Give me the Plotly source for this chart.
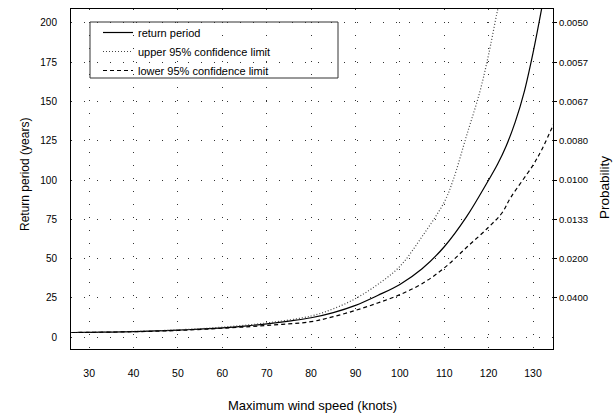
import plotly.graph_objects as go

# ---- data ----
wind_knots = [26, 30, 35, 40, 45, 50, 55, 60, 65, 70, 75, 80, 85, 90, 95, 100, 105, 110, 115, 120, 122, 124, 126, 128, 130, 132, 134]
return_period = [2.9, 3.0, 3.2, 3.5, 3.9, 4.4, 5.1, 5.9, 7.0, 8.4, 10.2, 12.3, 15.6, 20.2, 26.5, 33.5, 43.5, 57.5, 76.5, 100.0, 110.0, 122.0, 137.0, 156.0, 181.0, 210.0, 242.0]

upper_knots = [26, 30, 40, 50, 60, 70, 80, 85, 90, 95, 100, 105, 110, 112, 115, 118, 120, 122, 124]
upper_limit = [2.9, 3.0, 3.6, 4.6, 6.3, 9.0, 13.4, 18.0, 24.5, 33.5, 45, 64, 86, 100, 128, 156, 180, 208, 232]

lower_knots = [26, 30, 40, 50, 60, 70, 80, 85, 90, 95, 100, 105, 110, 115, 120, 123, 125, 130, 132, 135]
lower_limit = [2.9, 3.0, 3.4, 4.2, 5.6, 7.4, 9.8, 13.0, 17.0, 21.7, 27.0, 34.0, 44.0, 57.0, 70.0, 79.0, 89.0, 109.5, 119.5, 138.0]

x_ticks = [30, 40, 50, 60, 70, 80, 90, 100, 110, 120, 130]
y_ticks = [0, 25, 50, 75, 100, 125, 150, 175, 200]
prob_ticks = [25, 50, 75, 100, 125, 150, 175, 200]
prob_labels = ["0.0400", "0.0200", "0.0133", "0.0100", "0.0080", "0.0067", "0.0057", "0.0050"]

W, H = 614, 417
L, R, T, B = 71, 553, 9, 349
FONT = "Liberation Sans, Arial, sans-serif"

fig = go.Figure()
fig.add_trace(go.Scatter(x=wind_knots, y=return_period, mode="lines", name="return period",
                         line=dict(color="black", width=1.2, shape="spline")))
fig.add_trace(go.Scatter(x=upper_knots, y=upper_limit, mode="lines", name="upper 95% confidence limit",
                         line=dict(color="#444444", width=1.2, dash="1px,2px", shape="spline")))
fig.add_trace(go.Scatter(x=lower_knots, y=lower_limit, mode="lines", name="lower 95% confidence limit",
                         line=dict(color="black", width=1.2, dash="4px,3px", shape="spline")))
# invisible trace to activate right axis
fig.add_trace(go.Scatter(x=[None], y=[None], yaxis="y2", showlegend=False, hoverinfo="skip"))

grid = dict(showgrid=True, gridcolor="#333333", gridwidth=1.2, griddash="1px,12px", zeroline=False)

fig.update_layout(
    width=W, height=H,
    margin=dict(l=L, r=W - R, t=T, b=H - B),
    paper_bgcolor="white", plot_bgcolor="white",
    font=dict(family=FONT, color="black"),
    showlegend=True,
    legend=dict(x=(98 - L) / (R - L), y=(B - 18) / (B - T), xanchor="left", yanchor="top",
                bgcolor="rgba(0,0,0,0)", borderwidth=0, font=dict(size=11, family=FONT),
                tracegroupgap=0),
    xaxis=dict(range=[25.9, 134.5], tickvals=x_ticks, ticks="", ticklabelstandoff=14,
               tickfont=dict(size=10.5), showline=True, linecolor="black", linewidth=1,
               mirror=True, **grid),
    yaxis=dict(range=[-7.6, 208.9], tickvals=y_ticks, ticks="", ticklabelstandoff=11,
               tickfont=dict(size=10), showline=True, linecolor="black", linewidth=1,
               mirror=True, **grid),
    yaxis2=dict(range=[-7.6, 208.9], overlaying="y", side="right", tickvals=prob_ticks,
                ticktext=prob_labels, ticks="outside", ticklen=3, tickcolor="black",
                tickfont=dict(size=9.5), showgrid=False, zeroline=False, showline=True,
                linecolor="black", ticklabelstandoff=0),
    shapes=[dict(type="rect", xref="paper", yref="paper",
                 x0=(90 - L) / (R - L), x1=(338 - L) / (R - L),
                 y0=(B - 78) / (B - T), y1=(B - 22) / (B - T),
                 line=dict(color="#333333", width=1), fillcolor="rgba(0,0,0,0)")],
    annotations=[
        dict(text="Maximum wind speed (knots)", xref="paper", yref="paper",
             x=(312 - L) / (R - L), y=(B - 405) / (B - T), showarrow=False,
             font=dict(size=13), xanchor="center", yanchor="middle"),
        dict(text="Return period (years)", xref="paper", yref="paper",
             x=(25 - L) / (R - L), y=(B - 175) / (B - T), showarrow=False, textangle=-90,
             font=dict(size=12), xanchor="center", yanchor="middle"),
        dict(text="Probability", xref="paper", yref="paper",
             x=(604 - L) / (R - L), y=(B - 188) / (B - T), showarrow=False, textangle=-90,
             font=dict(size=13.5), xanchor="center", yanchor="middle"),
    ],
)

fig.write_html("out.html")
